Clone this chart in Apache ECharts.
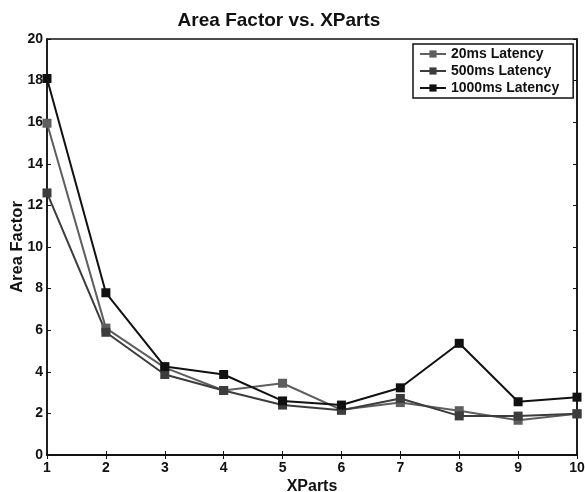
<!DOCTYPE html>
<html>
<head>
<meta charset="utf-8">
<script src="https://cdn.jsdelivr.net/npm/echarts@6/dist/echarts.min.js"></script>
<style>
  html, body { margin: 0; padding: 0; background: #fff; }
  #chart { width: 585px; height: 492px; }
</style>
</head>
<body>
<div id="chart"></div>
<script>
var xParts = [1, 2, 3, 4, 5, 6, 7, 8, 9, 10];
var lat20 = [15.95, 6.1, 4.2, 3.1, 3.45, 2.17, 2.52, 2.13, 1.67, 1.98];
var lat500 = [12.6, 5.9, 3.87, 3.1, 2.4, 2.15, 2.72, 1.88, 1.87, 1.98];
var lat1000 = [18.1, 7.8, 4.25, 3.87, 2.6, 2.4, 3.23, 5.37, 2.56, 2.78];
var seriesNames = ['20ms Latency', '500ms Latency', '1000ms Latency'];

function pairs(ys) {
  return xParts.map(function (x, i) { return [x, ys[i]]; });
}

var font = 'Liberation Sans, Arial, sans-serif';
var chart = echarts.init(document.getElementById('chart'));

function mkSeries(name, ys, color) {
  return {
    name: name,
    type: 'line',
    data: pairs(ys),
    symbol: 'rect',
    symbolSize: 9,
    showAllSymbol: true,
    lineStyle: { color: color, width: 2 },
    itemStyle: { color: color },
    emphasis: { disabled: true },
    animation: false
  };
}

var tick = { inside: true, length: 4, lineStyle: { color: '#111' } };

chart.setOption({
  animation: false,
  title: {
    text: 'Area Factor vs. XParts',
    left: 274,
    textAlign: 'center',
    top: 6,
    textStyle: { fontFamily: font, fontSize: 19, fontWeight: 'bold', color: '#111' }
  },
  legend: {
    left: 413,
    top: 44,
    orient: 'vertical',
    itemGap: 3,
    itemWidth: 26,
    itemHeight: 9,
    padding: [3, 14, 3, 6],
    borderColor: '#111',
    borderWidth: 1.5,
    backgroundColor: '#fff',
    textStyle: { fontFamily: font, fontSize: 14, fontWeight: 'bold', color: '#111' },
    data: seriesNames
  },
  grid: {
    left: 47, right: 8, top: 39, bottom: 37,
    outerBoundsMode: 'none',
    show: true, borderColor: '#111', borderWidth: 1.5
  },
  xAxis: [{
    type: 'value',
    min: 1, max: 10, interval: 1,
    name: 'XParts',
    nameLocation: 'middle',
    nameGap: 24,
    nameMoveOverlap: false,
    nameTextStyle: { fontFamily: font, fontSize: 16, fontWeight: 'bold', color: '#111' },
    axisLine: { lineStyle: { color: '#111', width: 1.5 } },
    axisTick: tick,
    axisLabel: { fontFamily: font, fontSize: 14, fontWeight: 'bold', color: '#111', margin: 6 },
    splitLine: { show: false }
  }, {
    type: 'value', position: 'top',
    min: 1, max: 10, interval: 1,
    axisLine: { lineStyle: { color: '#111', width: 1.5 } },
    axisTick: tick,
    axisLabel: { show: false },
    splitLine: { show: false }
  }],
  yAxis: [{
    type: 'value',
    min: 0, max: 20, interval: 2,
    name: 'Area Factor',
    nameLocation: 'middle',
    nameGap: 21,
    nameMoveOverlap: false,
    nameTextStyle: { fontFamily: font, fontSize: 16.5, fontWeight: 'bold', color: '#111' },
    axisLine: { show: true, lineStyle: { color: '#111', width: 1.5 } },
    axisTick: tick,
    axisLabel: { fontFamily: font, fontSize: 14, fontWeight: 'bold', color: '#111', margin: 4 },
    splitLine: { show: false }
  }, {
    type: 'value', position: 'right',
    min: 0, max: 20, interval: 2,
    axisLine: { show: true, lineStyle: { color: '#111', width: 1.5 } },
    axisTick: tick,
    axisLabel: { show: false },
    splitLine: { show: false }
  }],
  series: [
    mkSeries(seriesNames[0], lat20, '#5e5e5e'),
    mkSeries(seriesNames[1], lat500, '#3c3c3c'),
    mkSeries(seriesNames[2], lat1000, '#111111')
  ]
});
</script>
</body>
</html>
